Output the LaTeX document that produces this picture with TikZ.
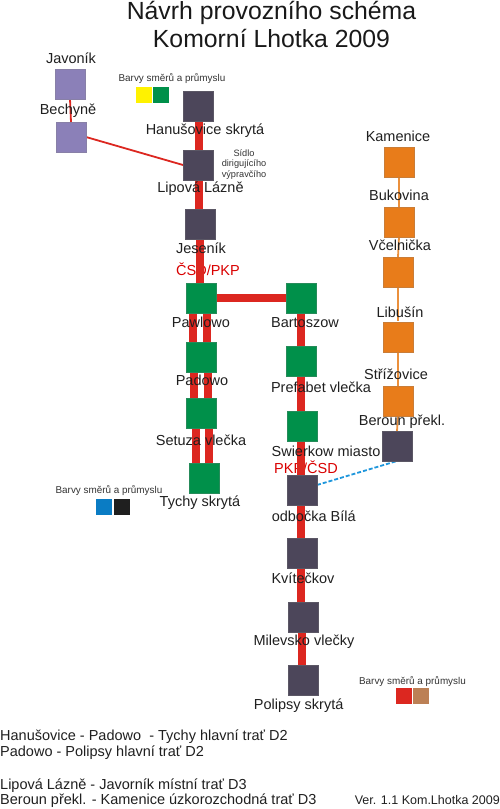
\documentclass[tikz,border=0pt]{standalone}
\usepackage{fontspec}
\setmainfont{Liberation Sans}
\definecolor{trk}{HTML}{DC2720}
\definecolor{dk}{HTML}{4C465A}
\definecolor{grn}{HTML}{00904A}
\definecolor{pur}{HTML}{8B80B8}
\definecolor{org}{HTML}{E87C1A}
\definecolor{blu}{HTML}{1E96DC}
\definecolor{lgblu}{HTML}{0A7CC4}
\definecolor{lgbrn}{HTML}{BC8055}
\tikzset{
 st/.style={minimum size=30pt,inner sep=0pt,outer sep=0pt,draw=#1!70!gray,line width=.5pt,fill=#1},
 lab/.style={inner sep=0pt,font=\fontsize{14.5}{14.5}\selectfont,text=black!88},
 redlab/.style={inner sep=0pt,font=\fontsize{14.5}{14.5}\selectfont,text=red!85!black},
 small/.style={inner sep=0pt,font=\fontsize{9.9}{9.9}\selectfont,text=black!80},
 tiny/.style={inner sep=0pt,font=\fontsize{9.2}{9.2}\selectfont,text=black!80},
 sw/.style={minimum size=16pt,inner sep=0pt,outer sep=0pt,fill=#1},
 main/.style={line width=8pt,trk},
 thin/.style={line width=1.8pt,trk},
 narrow/.style={line width=1.8pt,org!85!white,dash pattern=on 34pt off 2pt},
 bottom/.style={inner sep=0pt,anchor=west,font=\fontsize{14.5}{14.5}\selectfont,text=black!88},
 ttl/.style={inner sep=0pt,font=\fontsize{24.8}{24.8}\selectfont,text=black!90},
}
\begin{document}
\begin{tikzpicture}[x=1pt,y=-1pt]
\useasboundingbox (0,0) rectangle (500,809);
% red labels under the tracks
\node[redlab] (csdpkp) at (208,269) {ČSD/PKP};
\node[redlab] (pkpcsd) at (306,467) {PKP/ČSD};
% stations
\node[st=dk] (han) at (198,106) {};
\node[st=dk] (lip) at (198,165) {};
\node[st=dk] (jes) at (200.5,224) {};
\node[st=grn] (paw) at (201,298) {};
\node[st=grn] (pad) at (201,357) {};
\node[st=grn] (set) at (201,413) {};
\node[st=grn] (tyc) at (204.5,478) {};
\node[st=grn] (bar) at (301,298) {};
\node[st=grn] (pre) at (301,361) {};
\node[st=grn] (swi) at (302,426) {};
\node[st=dk] (odb) at (302,490) {};
\node[st=dk] (kvi) at (302,553) {};
\node[st=dk] (mil) at (303,617) {};
\node[st=dk] (pol) at (303,680.5) {};
\node[st=org] (kam) at (399,162) {};
\node[st=org] (buk) at (399,222) {};
\node[st=org] (vce) at (398,272) {};
\node[st=org] (lib) at (398,337) {};
\node[st=org] (str) at (398,401) {};
\node[st=dk] (ber) at (397,446) {};
\node[st=pur] (jav) at (70,84) {};
\node[st=pur] (bec) at (71,137) {};
% tracks
\draw[main] ([xshift=1pt]han.south) -- ([xshift=1pt]lip.north);
\draw[main] ([xshift=1pt]lip.south) -- ([xshift=-1.5pt]jes.north);
\draw[main] ([xshift=-1pt]jes.south) -- ([xshift=-1.5pt]paw.north);
\draw[main] (paw.east) -- (bar.west);
\draw[main] ([xshift=-8pt]paw.south) -- ([xshift=-8pt]pad.north);
\draw[main] ([xshift=6pt]paw.south) -- ([xshift=6pt]pad.north);
\draw[main] ([xshift=-7pt]pad.south) -- ([xshift=-7pt]set.north);
\draw[main] ([xshift=7pt]pad.south) -- ([xshift=7pt]set.north);
\draw[main] ([xshift=-5pt]set.south) -- ([xshift=-8.5pt]tyc.north);
\draw[main] ([xshift=8pt]set.south) -- ([xshift=4.5pt]tyc.north);
\draw[main] ([xshift=-.5pt]bar.south) -- ([xshift=-.5pt]pre.north);
\draw[main] ([xshift=-.5pt]pre.south) -- ([xshift=-1.5pt]swi.north);
\draw[main] ([xshift=-1.5pt]swi.south) -- ([xshift=-1.5pt]odb.north);
\draw[main] ([xshift=-1.5pt]odb.south) -- ([xshift=-1.5pt]kvi.north);
\draw[main] ([xshift=-1.5pt]kvi.south) -- ([xshift=-2.5pt]mil.north);
\draw[main] ([xshift=-1.5pt]mil.south) -- ([xshift=-1.5pt]pol.north);
\draw[thin] (jav.south) -- (bec.north);
\draw[thin] (bec.east) -- (lip.west);
\draw[narrow] (kam.south) -- (buk.north);
\draw[narrow] (buk.south) -- (vce.north);
\draw[narrow] (vce.south) -- (lib.north);
\draw[narrow] (lib.south) -- (str.north);
\draw[narrow] (str.south) -- (ber.north);
\draw[line width=1.8pt,blu,dash pattern=on 4pt off 2pt] ([yshift=5pt]odb.east) -- (ber.south);
% squares above the tracks
\foreach \c/\x/\y in {pur/70/84,pur/71/137,dk/198/106,dk/198/165,dk/200.5/224,
 grn/201/298,grn/201/357,grn/201/413,grn/204.5/478,grn/301/298,grn/301/361,
 grn/302/426,dk/302/490,dk/302/553,dk/303/617,dk/303/680.5,
 org/399/162,org/399/222,org/398/272,org/398/337,org/398/401,dk/397/446}
 {\node[st=\c] at (\x,\y) {};}
% labels
\node[lab] (l1) at (71,58) {Javoník};
\node[lab] (l2) at (68,111) {Bechyně};
\node[lab] (l3) at (205,131) {Hanušovice skrytá};
\node[lab] (l4) at (200.5,189) {Lipová Lázně};
\node[lab] (l5) at (201,248) {Jeseník};
\node[lab] (l6) at (201,322) {Pawlowo};
\node[lab] (l7) at (305,323) {Bartoszow};
\node[lab] (l8) at (202,380) {Padowo};
\node[lab] (l9) at (321,387) {Prefabet vlečka};
\node[lab] (l10) at (201,440) {Setuza vlečka};
\node[lab] (l11) at (326,451) {Swierkow miasto};
\node[lab] (l12) at (200,503) {Tychy skrytá};
\node[lab] (l13) at (313.7,516) {odbočka Bílá};
\node[lab] (l14) at (303,578) {Kvítečkov};
\node[lab] (l15) at (304,642) {Milevsko vlečky};
\node[lab] (l16) at (298.7,706) {Polipsy skrytá};
\node[lab] (l17) at (398,136) {Kamenice};
\node[lab] (l18) at (399,195) {Bukovina};
\node[lab] (l19) at (400,245) {Včelnička};
\node[lab] (l20) at (400,312) {Libušín};
\node[lab] (l21) at (396,374) {Střížovice};
\node[lab] (l22) at (402,422) {Beroun překl.};
% note
\node[tiny,align=center] (note) at (244,164.5) {Sídlo\\[1.2pt]dirigujícího\\[1.2pt]výpravčího};
% legends
\node[small] (lg1) at (172,79) {Barvy směrů a průmyslu};
\node[sw=yellow] (a1) at (143.5,95) {};
\node[sw=grn] (a2) at (160.5,95) {};
\node[small] (lg2) at (109,491) {Barvy směrů a průmyslu};
\node[sw=lgblu] (b1) at (104,507) {};
\node[sw=black!88] (b2) at (122,507) {};
\node[small] (lg3) at (412.5,682) {Barvy směrů a průmyslu};
\node[sw=trk] (c1) at (404,696) {};
\node[sw=lgbrn] (c2) at (421,696) {};
% title
\node[ttl] (t1) at (271.5,12.5) {Návrh provozního schéma};
\node[ttl] (t2) at (271.5,38) {Komorní Lhotka 2009};
% bottom text
\node[bottom] (n1) at (0,737) {Hanušovice - Padowo\ \ - Tychy hlavní trať D2};
\node[bottom] (n2) at (0,753) {Padowo - Polipsy hlavní trať D2};
\node[bottom] (n3) at (0,786) {Lipová Lázně - Javorník místní trať D3};
\node[bottom] (n4) at (0,801) {Beroun překl. - Kamenice úzkorozchodná trať D3};
\node[inner sep=0pt,anchor=east,font=\fontsize{12.5}{12.5}\selectfont,text=black!88] (v) at (500,800) {Ver. 1.1 Kom.Lhotka 2009};
\end{tikzpicture}
\end{document}
